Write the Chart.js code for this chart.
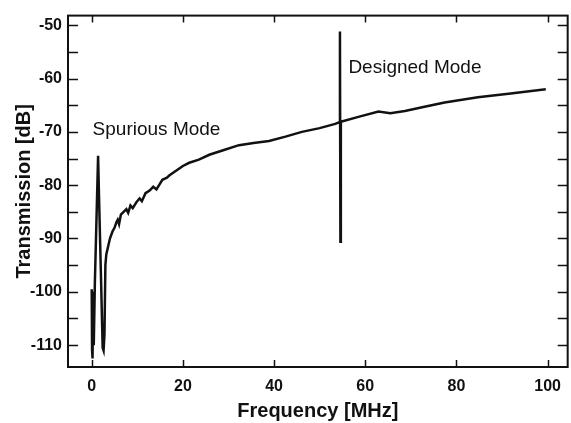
<!DOCTYPE html>
<html>

<head>
    <title>Transmission vs Frequency</title>
    <script src="https://cdn.jsdelivr.net/npm/chart.js"></script>
    <style>
        body { margin: 0; background: #fff; }
    </style>
</head>

<body>

    <canvas id="myChart" width="571" height="423"></canvas>

    <script>
        var freqMHz = [0.0, 0.08, 0.15, 0.22, 0.3, 0.45, 0.7, 1.0, 1.4, 1.6, 2.0, 2.4, 2.6, 2.8, 3.0, 3.2,
            3.6, 4.0, 4.3, 4.6, 5.0, 5.4, 5.7, 6.0, 6.4, 7.0, 7.6, 8.0, 8.5, 9.0, 9.8, 10.5, 11.0, 11.8,
            12.7, 13.5, 14.2, 15.5, 16.5, 17.0, 18.5, 20.0, 21.4, 23.5, 25.8, 29.0, 32.3, 35.5, 38.9,
            42.5, 46.1, 50.0, 53.4, 54.3, 54.45, 54.55, 54.65, 58.5, 62.9, 65.5, 68.7, 73.0, 77.4,
            84.7, 91.9, 99.6];
        var transmissionDb = [-99.5, -111, -100, -112.5, -101, -110, -98, -88, -74.5, -82, -96, -110.5, -111, -108, -95, -93,
            -91.5, -90, -89.3, -88.6, -88, -87, -86.5, -87.3, -85.5, -85, -84.5, -85.2, -83.8, -84.3, -83.2, -82.5, -83, -81.5,
            -81, -80.3, -80.8, -79, -78.6, -78.2, -77.3, -76.4, -75.8, -75.2, -74.3, -73.4, -72.5, -72.1, -71.7,
            -70.9, -70.0, -69.3, -68.5, -68.2, -51.2, -90.6, -68.1, -67.2, -66.2, -66.5, -66.1, -65.3, -64.5,
            -63.5, -62.8, -62.0];

        var xTicks = [0, 20, 40, 60, 80, 100];
        var yTicks = [-50, -55, -60, -65, -70, -75, -80, -85, -90, -95, -100, -105, -110];
        var yLabelTicks = [-50, -60, -70, -80, -90, -100, -110];

        var notes = [
            { text: 'Spurious Mode', x: 0.2, y: -69.7 },
            { text: 'Designed Mode', x: 56.3, y: -57.9 }
        ];

        var points = freqMHz.map(function (f, i) { return { x: f, y: transmissionDb[i] }; });

        // frame, inward ticks and the text notes
        var framePlugin = {
            id: 'frame',
            afterDraw(chart) {
                const ctx = chart.ctx;
                const a = chart.chartArea;
                const xs = chart.scales.x, ys = chart.scales.y;
                ctx.save();
                ctx.strokeStyle = '#111';
                ctx.lineWidth = 2;
                ctx.strokeRect(a.left, a.top, a.right - a.left, a.bottom - a.top);
                ctx.lineWidth = 1.5;
                ctx.beginPath();
                xTicks.forEach(v => {
                    const px = Math.round(xs.getPixelForValue(v)) + 0.5;
                    ctx.moveTo(px, a.bottom); ctx.lineTo(px, a.bottom - 7);
                    ctx.moveTo(px, a.top); ctx.lineTo(px, a.top + 7);
                });
                yTicks.forEach(v => {
                    const py = Math.round(ys.getPixelForValue(v)) + 0.5;
                    ctx.moveTo(a.left, py); ctx.lineTo(a.left + 10, py);
                    ctx.moveTo(a.right, py); ctx.lineTo(a.right - 10, py);
                });
                ctx.stroke();

                ctx.fillStyle = '#111';
                ctx.font = '19px "Liberation Sans", Arial, sans-serif';
                ctx.textBaseline = 'middle';
                ctx.textAlign = 'left';
                notes.forEach(n => {
                    ctx.fillText(n.text, xs.getPixelForValue(n.x), ys.getPixelForValue(n.y));
                });
                ctx.restore();
            }
        };

        var ctx = document.getElementById('myChart').getContext('2d');

        var myChart = new Chart(ctx, {
            type: 'line',
            data: {
                datasets: [{
                    data: points,
                    borderColor: '#111',
                    borderWidth: 2.5,
                    pointRadius: 0,
                    tension: 0,
                    fill: false
                }]
            },
            options: {
                responsive: false,
                animation: false,
                layout: { padding: { top: 10, right: 1, left: 0, bottom: 0 } },
                plugins: {
                    legend: { display: false },
                    tooltip: { enabled: false }
                },
                scales: {
                    x: {
                        type: 'linear',
                        min: -5.2,
                        max: 104.4,
                        afterFit: s => { s.height = 56; },
                        afterBuildTicks: s => { s.ticks = xTicks.map(v => ({ value: v })); },
                        grid: { display: false, drawTicks: false },
                        border: { display: false },
                        ticks: {
                            color: '#111',
                            padding: 10,
                            maxRotation: 0,
                            font: { family: '"Liberation Sans", Arial, sans-serif', size: 16, weight: 'bold' }
                        },
                        title: {
                            display: true,
                            text: 'Frequency [MHz]',
                            color: '#111',
                            padding: { top: 0, bottom: 0 },
                            font: { family: '"Liberation Sans", Arial, sans-serif', size: 20, weight: 'bold' }
                        }
                    },
                    y: {
                        min: -114.1,
                        max: -48.2,
                        afterFit: s => { s.width = 68; },
                        afterBuildTicks: s => { s.ticks = yTicks.map(v => ({ value: v })); },
                        grid: { display: false, drawTicks: false },
                        border: { display: false },
                        ticks: {
                            color: '#111',
                            padding: 6,
                            autoSkip: false,
                            callback: v => yLabelTicks.indexOf(v) >= 0 ? String(v) : '',
                            font: { family: '"Liberation Sans", Arial, sans-serif', size: 16, weight: 'bold' }
                        },
                        title: {
                            display: true,
                            text: 'Transmission [dB]',
                            color: '#111',
                            padding: { top: 12, bottom: 0 },
                            font: { family: '"Liberation Sans", Arial, sans-serif', size: 20, weight: 'bold' }
                        }
                    }
                }
            },
            plugins: [framePlugin]
        });
    </script>

</body>

</html>
